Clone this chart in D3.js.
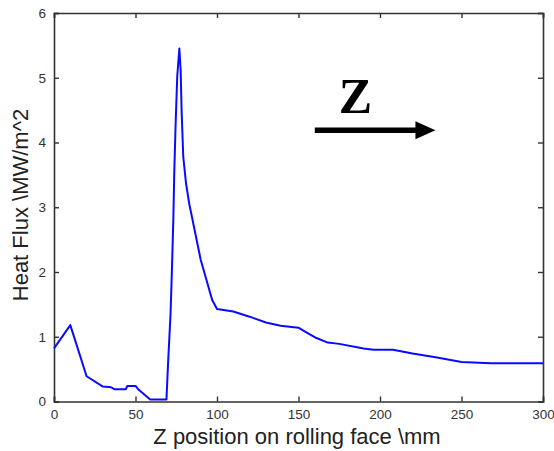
<!DOCTYPE html>
<html><head><meta charset="utf-8">
<script src="https://cdn.jsdelivr.net/npm/d3@7"></script>
<style>
html,body{margin:0;padding:0;background:#fff;}
svg{display:block;}
text{font-family:Arial,"Liberation Sans",sans-serif;}
</style></head>
<body>
<svg id="c" width="554" height="451"></svg>
<script>
// Data
const zPos = [0, 10, 20, 30, 35, 37, 44, 45, 50, 52, 59, 69, 70, 71.5, 72.4, 73.2, 73.8, 74.6, 75.6, 76.9, 77.7, 78.3, 79.3, 81, 83, 90, 97, 100, 105, 110, 120, 130, 139, 150, 154, 161, 168, 175, 190, 196, 208, 220, 235, 250, 268, 300];
const heatFlux = [0.82, 1.18, 0.39, 0.23, 0.22, 0.19, 0.19, 0.24, 0.24, 0.18, 0.03, 0.03, 0.6, 1.35, 2.08, 2.8, 3.55, 4.27, 5.02, 5.45, 5.12, 4.48, 3.78, 3.37, 3.05, 2.19, 1.57, 1.43, 1.41, 1.39, 1.31, 1.22, 1.17, 1.14, 1.08, 0.98, 0.91, 0.89, 0.82, 0.80, 0.80, 0.74, 0.68, 0.61, 0.59, 0.59];
const xTicks = [0, 50, 100, 150, 200, 250, 300];
const yTicks = [0, 1, 2, 3, 4, 5, 6];
const xLabel = "Z position on rolling face \\mm";
const yLabel = "Heat Flux \\MW/m^2";
const arrowLabel = "Z";
const arrowFrom = [160, 4.19];
const arrowTo = [234, 4.19];
const arrowTextAt = [185, 4.46];

const svg = d3.select("#c");
const L = 54, R = 543, T = 13, B = 401.5;
const x = d3.scaleLinear().domain([0, 300]).range([L, R]);
const y = d3.scaleLinear().domain([0, 6]).range([B, T]);
const axCol = "#333";

// Axes with inward ticks (box style)
const gx = svg.append("g").attr("transform", `translate(0,${B})`)
  .call(d3.axisBottom(x).tickValues(xTicks).tickSize(-5).tickPadding(8).tickFormat(d3.format("d")));
const gxt = svg.append("g").attr("transform", `translate(0,${T})`)
  .call(d3.axisTop(x).tickValues(xTicks).tickSize(-5).tickFormat(""));
const gy = svg.append("g").attr("transform", `translate(${L},0)`)
  .call(d3.axisLeft(y).tickValues(yTicks).tickSize(-5).tickPadding(8).tickFormat(d3.format("d")));
const gyr = svg.append("g").attr("transform", `translate(${R},0)`)
  .call(d3.axisRight(y).tickValues(yTicks).tickSize(-5).tickFormat(""));
[gx, gxt, gy, gyr].forEach(g => {
  g.select(".domain").attr("stroke", axCol).attr("stroke-width", 1.6);
  g.selectAll(".tick line").attr("stroke", axCol).attr("stroke-width", 1.4);
  g.selectAll(".tick text").attr("fill", "#333").style("font-size", "13.5px");
});

// data line
const line = d3.line().x((d, i) => x(zPos[i])).y(d => y(d));
svg.append("path").datum(heatFlux)
  .attr("d", line)
  .attr("fill", "none")
  .attr("stroke", "#0a0aff")
  .attr("stroke-width", 2)
  .attr("stroke-linejoin", "round");

// axis labels
svg.append("text").attr("x", 297).attr("y", 444)
  .attr("text-anchor", "middle").attr("fill", "#222")
  .style("font-size", "22px").text(xLabel);
svg.append("text").attr("transform", `translate(28,205) rotate(-90)`)
  .attr("text-anchor", "middle").attr("fill", "#222")
  .style("font-size", "22px").text(yLabel);

// arrow annotation
const ax0 = x(arrowFrom[0]), ax1 = x(arrowTo[0]), ay = y(arrowFrom[1]);
svg.append("line").attr("x1", ax0).attr("x2", ax1 - 18).attr("y1", ay).attr("y2", ay)
  .attr("stroke", "#000").attr("stroke-width", 5.5);
svg.append("path")
  .attr("d", `M${ax1 - 20},${ay - 9}L${ax1},${ay}L${ax1 - 20},${ay + 9}Z`)
  .attr("fill", "#000");
svg.append("text").attr("x", x(arrowTextAt[0])).attr("y", y(arrowTextAt[1]))
  .attr("text-anchor", "middle")
  .style("font-family", "'Liberation Serif','Times New Roman',serif")
  .style("font-weight", "bold").style("font-size", "50px")
  .text(arrowLabel);
</script>
</body></html>
